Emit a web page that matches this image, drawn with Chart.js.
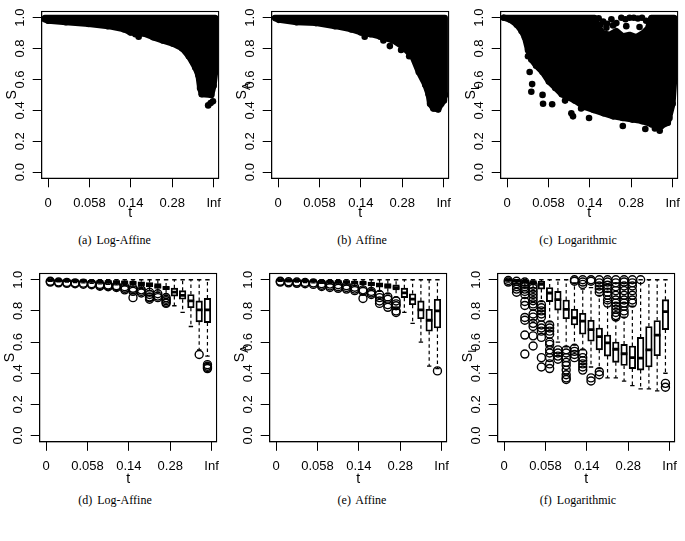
<!DOCTYPE html>
<html><head><meta charset="utf-8">
<script src="https://cdn.jsdelivr.net/npm/chart.js@4.4.1/dist/chart.umd.min.js"></script>
<style>
html,body{margin:0;padding:0;background:#fff;}
body{width:685px;height:541px;position:relative;overflow:hidden;}
canvas{position:absolute;}
.cap{position:absolute;font-family:'Liberation Serif',serif;font-size:12px;color:#000;white-space:nowrap;transform:translate(-50%,-50%);word-spacing:2px;}
</style></head><body>
<div class="cap" style="left:114.5px;top:240px">(a) Log-Affine</div>
<div class="cap" style="left:362px;top:240px">(b) Affine</div>
<div class="cap" style="left:578px;top:240px">(c) Logarithmic</div>
<div class="cap" style="left:115px;top:500px">(d) Log-Affine</div>
<div class="cap" style="left:362px;top:500px">(e) Affine</div>
<div class="cap" style="left:578px;top:500px">(f) Logarithmic</div>
<script>
// ---- axes ----
const xTickValues = [0, 0.25, 0.5, 0.75, 1];
const xTickLabels = ['0', '0.058', '0.14', '0.28', 'Inf'];
const yTickValues = [0, 0.2, 0.4, 0.6, 0.8, 1.0];
const groupPos = [0.025,0.075,0.125,0.175,0.225,0.275,0.325,0.375,0.425,0.475,0.525,0.575,0.625,0.675,0.725,0.775,0.825,0.875,0.925,0.975];

// ---- (a) Log-Affine scatter cloud: upper / lower edge of the dense cloud, isolated dots ----
const aTopX = [-0.02, 1.01];
const aTopY = [1.0, 1.0];
const aBotX = [-0.02, 0, 0.107, 0.244, 0.361, 0.459, 0.498, 0.576, 0.635, 0.693, 0.752, 0.81, 0.85, 0.889, 0.908, 0.918, 0.928, 0.986, 1.0, 1.01];
const aBotY = [0.99, 0.98, 0.971, 0.959, 0.945, 0.924, 0.904, 0.898, 0.873, 0.852, 0.832, 0.801, 0.75, 0.678, 0.627, 0.545, 0.504, 0.5, 0.56, 0.65];
const aDotX = [0.527, 0.547, 0.967, 0.982, 0.996];
const aDotY = [0.893, 0.877, 0.432, 0.447, 0.459];

// ---- (b) Affine ----
const bTopX = [-0.02, 1.008];
const bTopY = [1.0, 1.0];
const bBotX = [-0.016, 0.004, 0.111, 0.228, 0.344, 0.442, 0.5, 0.558, 0.617, 0.695, 0.753, 0.811, 0.85, 0.889, 0.909, 0.918, 0.938, 0.967, 0.986, 1.002, 1.008];
const bBotY = [0.996, 0.986, 0.971, 0.965, 0.945, 0.924, 0.904, 0.893, 0.877, 0.852, 0.811, 0.75, 0.648, 0.566, 0.504, 0.443, 0.412, 0.406, 0.443, 0.463, 0.5];
const bDotX = [0.523, 0.636, 0.675, 0.743, 0.792];
const bDotY = [0.877, 0.852, 0.816, 0.791, 0.75];

// ---- (c) Logarithmic ----
const cTopX = [-0.02, 0.53, 0.55, 0.58, 0.62, 0.66, 0.70, 0.74, 0.78, 0.82, 0.85, 0.87, 1.01];
const cTopY = [1.0, 1.0, 0.94, 0.9, 0.89, 0.915, 0.88, 0.89, 0.875, 0.9, 0.93, 1.0, 1.0];
const cBotX = [-0.02, 0.019, 0.058, 0.087, 0.107, 0.126, 0.146, 0.175, 0.214, 0.252, 0.291, 0.33, 0.369, 0.408, 0.466, 0.524, 0.583, 0.641, 0.699, 0.757, 0.816, 0.874, 0.932, 0.971, 1.0, 1.01];
const cBotY = [1.0, 0.986, 0.955, 0.914, 0.873, 0.791, 0.73, 0.689, 0.648, 0.586, 0.545, 0.504, 0.484, 0.463, 0.422, 0.402, 0.381, 0.361, 0.35, 0.34, 0.33, 0.309, 0.299, 0.32, 0.443, 0.6];
const cDotX = [0.136, 0.151, 0.146, 0.126, 0.214, 0.217, 0.272, 0.35, 0.388, 0.398, 0.447, 0.495, 0.699, 0.835, 0.893, 0.922, 0.981, 0.553, 0.58, 0.603, 0.63, 0.66, 0.69, 0.715, 0.74, 0.765, 0.79, 0.815, 0.84, 0.60, 0.64, 0.72, 0.80, 0.565];
const cDotY = [0.648, 0.57, 0.52, 0.75, 0.5, 0.443, 0.439, 0.463, 0.381, 0.361, 0.412, 0.35, 0.299, 0.279, 0.283, 0.268, 0.35, 0.996, 0.975, 0.96, 0.99, 0.965, 1.0, 0.99, 1.0, 1.0, 0.995, 1.0, 0.98, 0.935, 0.95, 0.945, 0.94, 0.955];

// ---- (d) Log-Affine boxplots ----
const dLo  = [0.99,0.987,0.985,0.982,0.98,0.977,0.974,0.97,0.967,0.962,0.952,0.945,0.93,0.92,0.91,0.833,0.79,0.70,0.55,0.51];
const dQ1  = [0.993,0.991,0.99,0.988,0.986,0.984,0.982,0.98,0.978,0.975,0.968,0.962,0.955,0.945,0.936,0.895,0.875,0.82,0.73,0.725];
const dMed = [0.997,0.995,0.994,0.993,0.992,0.99,0.989,0.988,0.986,0.985,0.98,0.975,0.968,0.957,0.947,0.92,0.9,0.864,0.807,0.807];
const dQ3  = [0.999,0.998,0.998,0.997,0.997,0.996,0.995,0.995,0.994,0.993,0.99,0.987,0.982,0.975,0.957,0.946,0.93,0.905,0.864,0.88];
const dHi  = [1,1,1,1,1,1,1,1,1,1,1,1,1,1,1,1,1,1,1,1];
const dOut = [[0.99,0.985],[0.985,0.98],[0.983,0.977],[0.98,0.974],[0.978,0.971],[0.975,0.968],[0.97,0.963,0.958],[0.966,0.96,0.955],[0.962,0.957,0.95],[0.955,0.945,0.935],[0.945,0.935,0.925,0.885],[0.935,0.925,0.915],[0.92,0.905,0.89,0.885,0.875],[0.91,0.895,0.885],[0.885,0.875,0.865,0.855,0.848],[],[],[],[0.52],[0.455,0.445,0.437,0.43]];

// ---- (e) Affine boxplots ----
const eLo  = [0.99,0.987,0.985,0.982,0.98,0.977,0.974,0.97,0.967,0.96,0.95,0.94,0.925,0.91,0.89,0.79,0.72,0.6,0.445,0.43];
const eQ1  = [0.993,0.991,0.99,0.988,0.986,0.984,0.982,0.98,0.978,0.972,0.966,0.96,0.953,0.945,0.935,0.885,0.84,0.75,0.67,0.69];
const eMed = [0.997,0.995,0.994,0.993,0.992,0.99,0.989,0.988,0.986,0.983,0.978,0.973,0.966,0.96,0.95,0.916,0.875,0.807,0.74,0.80];
const eQ3  = [0.999,0.998,0.998,0.997,0.997,0.996,0.995,0.995,0.994,0.992,0.989,0.985,0.98,0.975,0.968,0.946,0.91,0.864,0.81,0.875];
const eHi  = [1,1,1,1,1,1,1,1,1,1,1,1,1,1,1,1,1,1,1,1];
const eOut = [[0.99,0.985],[0.987,0.98],[0.985,0.977],[0.982,0.974],[0.979,0.97],[0.975,0.965,0.957],[0.972,0.96,0.95],[0.968,0.955,0.945],[0.962,0.95,0.94],[0.952,0.94,0.93],[0.935,0.925,0.88],[0.925,0.915,0.905],[0.905,0.885,0.864,0.848],[0.89,0.875,0.84,0.823],[0.864,0.845,0.833,0.8,0.79],[],[],[],[],[0.415]];

// ---- (f) Logarithmic boxplots ----
const fLo  = [0.985,0.975,0.96,0.95,0.86,0.73,0.6,0.57,0.58,0.55,0.44,0.43,0.37,0.37,0.35,0.32,0.30,0.30,0.287,0.40];
const fQ1  = [0.99,0.985,0.98,0.97,0.94,0.86,0.805,0.75,0.71,0.65,0.605,0.55,0.51,0.47,0.45,0.43,0.42,0.44,0.512,0.68];
const fMed = [0.997,0.995,0.99,0.985,0.97,0.915,0.872,0.81,0.756,0.735,0.68,0.635,0.595,0.554,0.525,0.50,0.497,0.55,0.645,0.795];
const fQ3  = [1.0,1.0,1.0,0.995,0.99,0.95,0.925,0.87,0.81,0.785,0.74,0.69,0.645,0.60,0.585,0.575,0.63,0.70,0.738,0.872];
const fHi  = [1,1,1,1,1,1,1,1,0.98,0.94,0.95,0.9,0.86,0.74,0.76,0.83,1,1,1,1];
const fOut = [[0.995,0.985],[0.99,0.975,0.955,0.94,0.92],[0.985,0.97,0.955,0.94,0.925,0.905,0.86,0.835,0.758,0.74,0.645,0.523],[0.965,0.945,0.925,0.905,0.885,0.865,0.845,0.83,0.78,0.76,0.72,0.7,0.64,0.575],[0.84,0.82,0.8,0.78,0.76,0.71,0.69,0.67,0.63,0.5,0.44],[0.71,0.69,0.67,0.65,0.6,0.585,0.55,0.53,0.5,0.46,0.43],[0.55,0.53,0.51,0.49],[0.55,0.53,0.5,0.47,0.45,0.42,0.39,0.37,0.36],[1.0,0.99,0.56,0.54,0.52,0.5],[1.0,0.985,0.97,0.53,0.5,0.48,0.46,0.44,0.42],[1.0,0.99,0.37,0.35],[1.0,0.98,0.96,0.94,0.92,0.41,0.39],[1.0,0.985,0.965,0.945,0.92,0.9,0.87,0.85],[1.0,0.98,0.955,0.93,0.9,0.87,0.85,0.83,0.81,0.79,0.77,0.76],[1.0,0.985,0.96,0.93,0.9,0.87,0.85,0.83,0.8,0.78],[1.0,0.98,0.96,0.93,0.9,0.87,0.85],[1.0],[],[],[0.335,0.31]];

// ---- plugins ----
const framePlugin = {
  id: 'frame',
  afterDatasetsDraw(chart) {
    const a = chart.chartArea, ctx = chart.ctx;
    ctx.save(); ctx.strokeStyle = '#000'; ctx.lineWidth = 1.1;
    ctx.strokeRect(a.left, a.top, a.right - a.left, a.bottom - a.top);
    ctx.restore();
  }
};
const subPlugin = {
  id: 'sublab',
  afterDraw(chart, args, opts) {
    if (!opts || !opts.text) return;
    const s = chart.scales.y, t = s.options.title;
    const font = Chart.helpers.toFont(t.font);
    const pad = Chart.helpers.toPadding(t.padding);
    const x = s.left + font.lineHeight / 2 + pad.top;
    const y = (s.top + s.bottom) / 2;
    const ctx = chart.ctx;
    ctx.save();
    ctx.translate(x, y); ctx.rotate(-Math.PI / 2);
    ctx.font = font.string;
    const w = ctx.measureText(t.text).width;
    ctx.font = Math.round(font.size * 0.75) + 'px "Liberation Sans"';
    ctx.fillStyle = '#000'; ctx.textAlign = 'left'; ctx.textBaseline = 'middle';
    ctx.fillText(opts.text, w / 2 + 0.3, font.size * 0.32);
    ctx.restore();
  }
};

const TOP = {W: 229, H: 226, l: 41.7, r: 223.5, t: 3.3, b: 178.3};
const BOT = {W: 229, H: 230, l: 41.7, r: 223.5, t: 4.6, b: 179.8};
const tickFont = {family: 'Liberation Sans', size: 13};
const titleFont = {family: 'Liberation Sans', size: 14};

function makeCanvas(left, top, g) {
  const c = document.createElement('canvas');
  c.width = g.W; c.height = g.H;
  c.style.left = left + 'px'; c.style.top = top + 'px';
  c.style.width = g.W + 'px'; c.style.height = g.H + 'px';
  document.body.appendChild(c);
  return c;
}

function baseOptions(g, sub) {
  return {
    responsive: false, animation: false, events: [],
    layout: {padding: {left: 0, top: g.t, right: g.W - g.r, bottom: 0}},
    plugins: {legend: {display: false}, tooltip: {enabled: false}, sublab: {text: sub}},
    scales: {
      x: {
        type: 'linear', min: -0.039, max: 1.03, offset: false,
        afterBuildTicks: s => { s.ticks = xTickValues.map(v => ({value: v})); },
        afterFit: s => { s.height = g.H - g.b; },
        ticks: {autoSkip: false, minRotation: 0, maxRotation: 0, padding: 8, color: '#000', font: tickFont,
                callback: (v, i) => xTickLabels[i]},
        grid: {display: true, drawOnChartArea: false, drawTicks: true, tickLength: 9, color: '#000', offset: false, lineWidth: 1},
        border: {display: true, color: '#000', width: 1},
        title: {display: true, text: 't', color: '#000', font: titleFont, padding: {top: 0, bottom: 4.6}}
      },
      y: {
        type: 'linear', min: -0.04, max: 1.04,
        afterBuildTicks: s => { s.ticks = yTickValues.map(v => ({value: v})); },
        afterFit: s => { s.width = g.l; },
        ticks: {autoSkip: false, minRotation: 90, maxRotation: 90, crossAlign: 'center', padding: 3.7, color: '#000', font: tickFont,
                callback: (v, i) => yTickValues[i].toFixed(1)},
        grid: {display: true, drawOnChartArea: false, drawTicks: true, tickLength: 9, color: '#000', lineWidth: 1},
        border: {display: true, color: '#000', width: 1},
        title: {display: true, text: 'S', color: '#000', font: titleFont, padding: {top: 4, bottom: 0}}
      }
    }
  };
}

function pts(xs, ys) { return xs.map((x, i) => ({x: x, y: ys[i]})); }

function topPanel(left, top, topX, topY, botX, botY, dotX, dotY, sub) {
  const outline = pts(topX, topY).concat(pts(botX, botY).reverse());
  const cv = makeCanvas(left, top, TOP);
  new Chart(cv, {
    type: 'scatter',
    data: {datasets: [
      {type: 'scatter', data: pts(dotX, dotY).concat(pts(botX, botY)), pointRadius: 3.3, pointBackgroundColor: '#000', pointBorderWidth: 0, order: 1},
      {type: 'line', data: outline, fill: 'shape', backgroundColor: '#000', borderColor: '#000', borderWidth: 6,
       borderJoinStyle: 'round', borderCapStyle: 'round', pointRadius: 0, tension: 0, order: 2}
    ]},
    options: baseOptions(TOP, sub),
    plugins: [framePlugin, subPlugin]
  });
}

function boxPanel(left, top, lo, q1, med, q3, hi, out, sub) {
  const whisk = [];
  const caps = [];
  const outs = [];
  groupPos.forEach((x, i) => {
    whisk.push({x: x, y: q3[i]}, {x: x, y: hi[i]}, {x: x, y: null}, {x: x, y: q1[i]}, {x: x, y: lo[i]}, {x: x, y: null});
    caps.push({x: x, y: lo[i]}, {x: x, y: hi[i]});
    out[i].forEach(v => outs.push({x: x, y: v}));
  });
  const cv = makeCanvas(left, top, BOT);
  new Chart(cv, {
    type: 'scatter',
    data: {datasets: [
      {type: 'scatter', data: outs, pointStyle: 'circle', pointRadius: 4, pointBorderWidth: 1.4,
       pointBorderColor: '#000', pointBackgroundColor: 'rgba(0,0,0,0)', order: 1},
      {type: 'scatter', data: caps, pointStyle: 'line', pointRadius: 2.2, pointBorderWidth: 1.3, pointBorderColor: '#000', order: 2},
      {type: 'scatter', data: pts(groupPos, med), pointStyle: 'line', pointRadius: 3.3, pointBorderWidth: 2.8, pointBorderColor: '#000', order: 3},
      {type: 'bar', data: groupPos.map((x, i) => ({x: x, y: [q1[i], q3[i]]})), backgroundColor: 'rgba(0,0,0,0)',
       borderColor: '#000', borderWidth: 1.2, borderSkipped: false, barThickness: 6.6, order: 4},
      {type: 'line', data: whisk, borderColor: '#000', borderWidth: 1.2, borderDash: [3.5, 3], pointRadius: 0,
       spanGaps: false, fill: false, tension: 0, order: 5}
    ]},
    options: baseOptions(BOT, sub),
    plugins: [framePlugin, subPlugin]
  });
}

topPanel(0, 0, aTopX, aTopY, aBotX, aBotY, aDotX, aDotY, '');
topPanel(229.5, 0, bTopX, bTopY, bBotX, bBotY, bDotX, bDotY, 'A');
topPanel(458.5, 0, cTopX, cTopY, cBotX, cBotY, cDotX, cDotY, 'L');
boxPanel(-2.4, 262, dLo, dQ1, dMed, dQ3, dHi, dOut, '');
boxPanel(227.6, 262, eLo, eQ1, eMed, eQ3, eHi, eOut, 'A');
boxPanel(456, 262, fLo, fQ1, fMed, fQ3, fHi, fOut, 'L');
</script>
</body></html>
